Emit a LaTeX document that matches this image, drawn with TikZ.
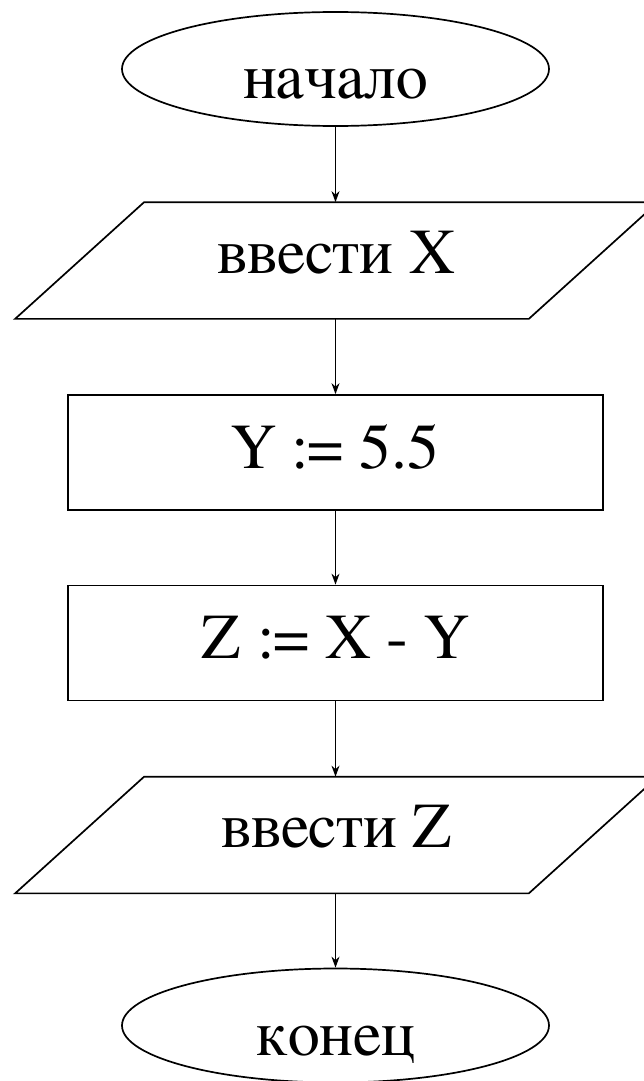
\documentclass[tikz,border=0pt]{standalone}
\usepackage{fontspec}
\newfontfamily\lserif{FreeSerif}
\usetikzlibrary{shapes.geometric,arrows.meta}
\begin{document}
\begin{tikzpicture}[x=1pt,y=-1pt,
  line width=1.7pt,
  txt/.style={font=\lserif\fontsize{64}{70}\selectfont, inner sep=0pt, anchor=base},
  term/.style={draw, ellipse, minimum width=427, minimum height=114, inner sep=0pt},
  procbox/.style={draw, rectangle, minimum width=535, minimum height=115, inner sep=0pt},
  iobox/.style={rectangle, minimum width=512, minimum height=115, inner sep=0pt},
  flow/.style={-{Stealth[length=11pt,width=8pt,inset=3.5pt]}, line width=1.3pt}]
\useasboundingbox (0,0) rectangle (644,1081);
% start
\node[term] (start) at (335.5,69) {};
\node[txt] (starttxt) at (335.5,98) {начало};
% input X
\node[iobox] (inx) at (336.5,260.5) {};
\draw ([xshift=64.5]inx.north west) -- ([xshift=64.5]inx.north east) -- ([xshift=-64.5]inx.south east) -- ([xshift=-64.5]inx.south west) -- cycle;
\node[txt] (inxtxt) at (336.5,273) {ввести X};
% Y
\node[procbox] (ybox) at (335.5,452.5) {};
\node[txt] (ytxt) at (335.5,468) {Y := 5.5};
% Z
\node[procbox] (zbox) at (335.5,643) {};
\node[txt] (ztxt) at (335.5,658) {Z := X - Y};
% output Z
\node[iobox] (outz) at (336.5,835) {};
\draw ([xshift=64.5]outz.north west) -- ([xshift=64.5]outz.north east) -- ([xshift=-64.5]outz.south east) -- ([xshift=-64.5]outz.south west) -- cycle;
\node[txt] (outztxt) at (336.5,847) {ввести Z};
% end
\node[term] (stop) at (335.5,1025.5) {};
\node[txt] (stoptxt) at (335.5,1055) {конец};
% connectors
\draw[flow] (start.south) -- (start.south |- inx.north);
\draw[flow] (start.south |- inx.south) -- (start.south |- ybox.north);
\draw[flow] (ybox.south) -- (zbox.north);
\draw[flow] (zbox.south) -- (zbox.south |- outz.north);
\draw[flow] (zbox.south |- outz.south) -- (stop.north);
\end{tikzpicture}
\end{document}
